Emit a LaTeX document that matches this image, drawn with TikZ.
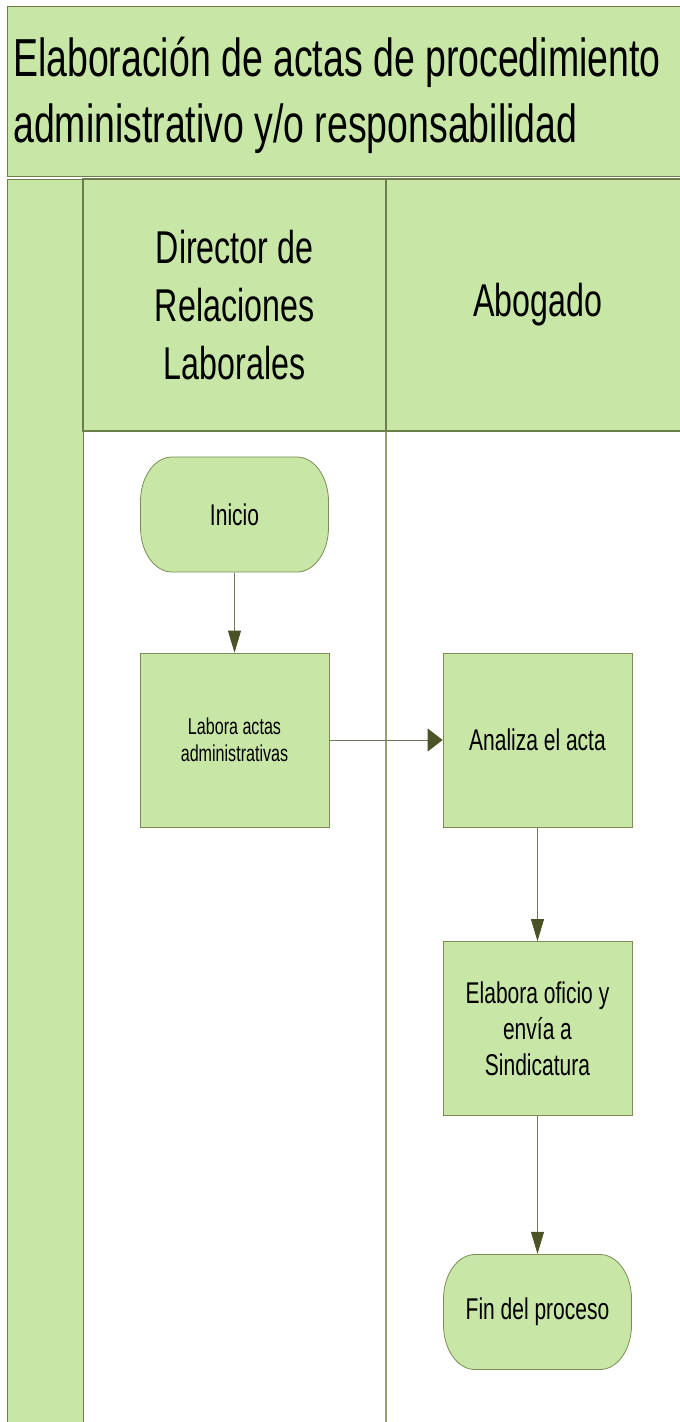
\documentclass[tikz,border=0pt]{standalone}
\usepackage{fontspec}
\setmainfont[FakeStretch=0.7]{Liberation Sans}
\usetikzlibrary{arrows.meta}

\definecolor{lanegreen}{RGB}{200,230,166}
\definecolor{frameline}{RGB}{108,124,74}
\definecolor{laneline}{RGB}{150,158,120}
\definecolor{boxline}{RGB}{125,140,85}
\definecolor{arrowline}{RGB}{115,120,90}
\definecolor{arrowtip}{RGB}{75,82,38}

\tikzset{
  lane/.style={draw=frameline, fill=lanegreen, line width=1.2pt, inner sep=0pt},
  lanehead/.style={lane, minimum width=303pt, minimum height=252pt, align=center,
    font=\fontsize{46}{58}\selectfont},
  process/.style={draw=boxline, fill=lanegreen, line width=0.8pt, inner sep=0pt,
    minimum width=189pt, minimum height=174pt, align=center,
    font=\fontsize{30}{36}\selectfont},
  terminal/.style={inner sep=0pt, minimum width=189pt, minimum height=116pt,
    font=\fontsize{30}{36}\selectfont,
    path picture={
      \filldraw[draw=boxline, fill=lanegreen, line width=0.8pt]
        ([xshift=32pt,yshift=-0.5pt]path picture bounding box.north west)
        -- ([xshift=-32pt,yshift=-0.5pt]path picture bounding box.north east)
        arc[start angle=90, end angle=0, x radius=31.5pt, y radius=44.5pt]
        -- ([xshift=-0.5pt,yshift=45pt]path picture bounding box.south east)
        arc[start angle=0, end angle=-90, x radius=31.5pt, y radius=44.5pt]
        -- ([xshift=32pt,yshift=0.5pt]path picture bounding box.south west)
        arc[start angle=270, end angle=180, x radius=31.5pt, y radius=44.5pt]
        -- ([xshift=0.5pt,yshift=-45pt]path picture bounding box.north west)
        arc[start angle=180, end angle=90, x radius=31.5pt, y radius=44.5pt]
        -- cycle;
    }},
  flow/.style={draw=arrowline, line width=0.8pt},
  downtip/.style={-{Triangle[length=22pt,width=13pt,color=arrowtip]}},
  righttip/.style={-{Triangle[length=15pt,width=23pt,color=arrowtip]}}
}

\begin{document}
\begin{tikzpicture}[x=1pt,y=-1pt]
\useasboundingbox (0,0) rectangle (680,1422);

% title band
\node[lane, anchor=north west, minimum width=682pt, minimum height=170pt] (titlebox) at (7,6) {};
\node[anchor=north west, inner sep=0pt, align=left, font=\fontsize{53.5}{66}\selectfont]
  (titulo) at (13,37) {Elaboración de actas de procedimiento\\administrativo y/o responsabilidad};

% pool and lanes
\node[lane, anchor=north west, minimum width=76pt, minimum height=1270pt] (pool) at (7,179) {};
\draw[laneline, line width=1.6pt] (386,431) -- (386,1440);
\node[lanehead] (hdir) at (234.5,305) {Director de\\Relaciones\\Laborales};
\node[lanehead] (habo) at (537.5,305) {Abogado};

% steps
\node[terminal] (inicio) at (234.5,514.5) {Inicio};
\node[process, font=\fontsize{23}{27}\selectfont] (labora) at (234.5,740) {Labora actas\\administrativas};
\node[process] (analiza) at (537.5,740) {Analiza el acta};
\node[process] (elabora) at (537.5,1028.5) {Elabora oficio y\\envía a\\Sindicatura};
\node[terminal] (fin) at (537.5,1312) {Fin del proceso};

% flow
\draw[flow, downtip] (inicio) -- (labora);
\draw[flow, righttip] (labora) -- (analiza);
\draw[flow, downtip] (analiza) -- (elabora);
\draw[flow, downtip] (elabora) -- (fin);
\end{tikzpicture}
\end{document}
